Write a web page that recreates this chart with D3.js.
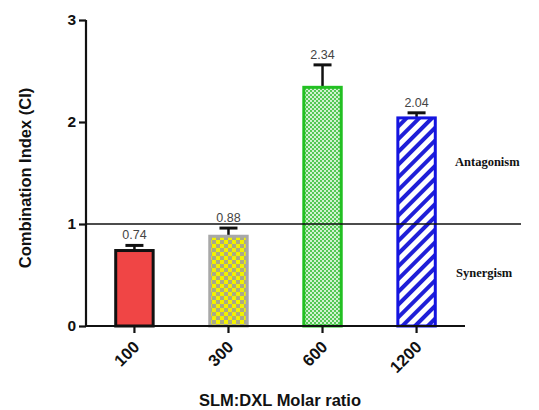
<!DOCTYPE html>
<html>
<head>
<meta charset="utf-8">
<script src="https://cdn.jsdelivr.net/npm/d3@7"></script>
<style>
  body { margin: 0; background: #fff; }
  svg { display: block; }
</style>
</head>
<body>
<script>
// data
var ratios = ["100", "300", "600", "1200"];
var ciValues = [0.74, 0.88, 2.34, 2.04];
var ciErrors = [0.05, 0.08, 0.22, 0.05];
var yTicks = [0, 1, 2, 3];

(function() {

var W = 539, H = 410;
var plotLeft = 86, plotRight = 465, plotTop = 20, plotBottom = 326;

var svg = d3.select("body").append("svg")
  .attr("width", W).attr("height", H);

// patterns
var defs = svg.append("defs");

var pYellow = defs.append("pattern").attr("id", "pYellow")
  .attr("patternUnits", "userSpaceOnUse").attr("width", 8).attr("height", 8);
pYellow.append("rect").attr("width", 8).attr("height", 8).attr("fill", "#a9a98a");
pYellow.append("rect").attr("width", 4).attr("height", 4).attr("fill", "#f2f200");
pYellow.append("rect").attr("x", 4).attr("y", 4).attr("width", 4).attr("height", 4).attr("fill", "#f2f200");

var pGreen = defs.append("pattern").attr("id", "pGreen")
  .attr("patternUnits", "userSpaceOnUse").attr("width", 4).attr("height", 4);
pGreen.append("rect").attr("width", 4).attr("height", 4).attr("fill", "#d2f2d2");
pGreen.append("rect").attr("width", 2).attr("height", 2).attr("fill", "#55c855");
pGreen.append("rect").attr("x", 2).attr("y", 2).attr("width", 2).attr("height", 2).attr("fill", "#55c855");

var pBlue = defs.append("pattern").attr("id", "pBlue")
  .attr("patternUnits", "userSpaceOnUse").attr("width", 9).attr("height", 9)
  .attr("patternTransform", "rotate(45)");
pBlue.append("rect").attr("width", 9).attr("height", 9).attr("fill", "#fff");
pBlue.append("rect").attr("width", 4).attr("height", 9).attr("fill", "#1f1fd8");

var fills = ["#f04545", "url(#pYellow)", "url(#pGreen)", "url(#pBlue)"];
var strokes = ["#111", "#a8a8a8", "#22c022", "#1414e0"];

var x = d3.scaleBand().domain(ratios).range([plotLeft, plotRight])
  .paddingInner(0.57).paddingOuter(0.3);
var y = d3.scaleLinear().domain([0, 3]).range([plotBottom, plotTop]);

var rows = ratios.map(function(r, i) {
  return { ratio: r, value: ciValues[i], err: ciErrors[i], fill: fills[i], stroke: strokes[i] };
});

// error bars (drawn first, bar covers the lower half)
var eb = svg.append("g").attr("stroke", "#111").attr("stroke-width", 2.5);
rows.forEach(function(d) {
  var cx = x(d.ratio) + x.bandwidth() / 2;
  eb.append("line").attr("x1", cx).attr("x2", cx)
    .attr("y1", y(d.value)).attr("y2", y(d.value + d.err));
  eb.append("line").attr("x1", cx - 9).attr("x2", cx + 9)
    .attr("y1", y(d.value + d.err)).attr("y2", y(d.value + d.err))
    .attr("stroke-width", 3);
});

// bars
svg.append("g").selectAll("rect")
  .data(rows).enter().append("rect")
  .attr("x", function(d) { return x(d.ratio) + 1.5; })
  .attr("y", function(d) { return y(d.value); })
  .attr("width", x.bandwidth() - 3)
  .attr("height", function(d) { return y(0) - y(d.value); })
  .attr("fill", function(d) { return d.fill; })
  .attr("stroke", function(d) { return d.stroke; })
  .attr("stroke-width", 3);

// value labels
svg.append("g").selectAll("text")
  .data(rows).enter().append("text")
  .attr("x", function(d) { return x(d.ratio) + x.bandwidth() / 2; })
  .attr("y", function(d) { return y(d.value + d.err) - 6; })
  .attr("text-anchor", "middle")
  .attr("font-family", "Liberation Sans, Arial, sans-serif")
  .attr("font-size", 12.5)
  .attr("fill", "#444")
  .text(function(d) { return d.value.toFixed(2); });

// CI = 1 reference line
svg.append("line")
  .attr("x1", plotLeft).attr("x2", 521)
  .attr("y1", y(1)).attr("y2", y(1))
  .attr("stroke", "#111").attr("stroke-width", 1.6);

// axes
var yAxis = svg.append("g")
  .attr("transform", "translate(" + plotLeft + ",0)")
  .call(d3.axisLeft(y).tickValues(yTicks).tickFormat(d3.format("d")).tickSize(7).tickPadding(3));
var xAxis = svg.append("g")
  .attr("transform", "translate(0," + plotBottom + ")")
  .call(d3.axisBottom(x).tickSize(7).tickSizeOuter(0));

[yAxis, xAxis].forEach(function(a) {
  a.select(".domain").attr("stroke", "#111").attr("stroke-width", 2.2);
  a.selectAll(".tick line").attr("stroke", "#111").attr("stroke-width", 2.2);
  a.selectAll("text")
    .attr("font-family", "Liberation Sans, Arial, sans-serif")
    .attr("font-weight", "bold")
    .attr("font-size", 15.5)
    .attr("fill", "#111");
});
yAxis.select(".domain").attr("d", "M0," + plotBottom + "V" + plotTop);
xAxis.select(".domain").attr("d", "M" + plotLeft + ",0H" + plotRight);

xAxis.selectAll(".tick text")
  .attr("text-anchor", "end")
  .attr("dy", "0.35em")
  .attr("transform", "translate(2,18) rotate(-45)")
  .attr("y", 0).attr("x", 0)
  .attr("font-size", 16.5);

// axis titles
svg.append("text")
  .attr("transform", "translate(31,178) rotate(-90)")
  .attr("text-anchor", "middle")
  .attr("font-family", "Liberation Sans, Arial, sans-serif")
  .attr("font-weight", "bold").attr("font-size", 16.5).attr("fill", "#111")
  .text("Combination Index (CI)");

svg.append("text")
  .attr("x", 280).attr("y", 406)
  .attr("text-anchor", "middle")
  .attr("font-family", "Liberation Sans, Arial, sans-serif")
  .attr("font-weight", "bold").attr("font-size", 16.5).attr("fill", "#111")
  .text("SLM:DXL Molar ratio");

// region notes
svg.append("text")
  .attr("x", 455).attr("y", 166)
  .attr("font-family", "Liberation Serif, Times New Roman, serif")
  .attr("font-weight", "bold").attr("font-size", 12.5).attr("fill", "#111")
  .text("Antagonism");
svg.append("text")
  .attr("x", 456).attr("y", 277)
  .attr("font-family", "Liberation Serif, Times New Roman, serif")
  .attr("font-weight", "bold").attr("font-size", 12.5).attr("fill", "#111")
  .text("Synergism");

})();
</script>
</body>
</html>
